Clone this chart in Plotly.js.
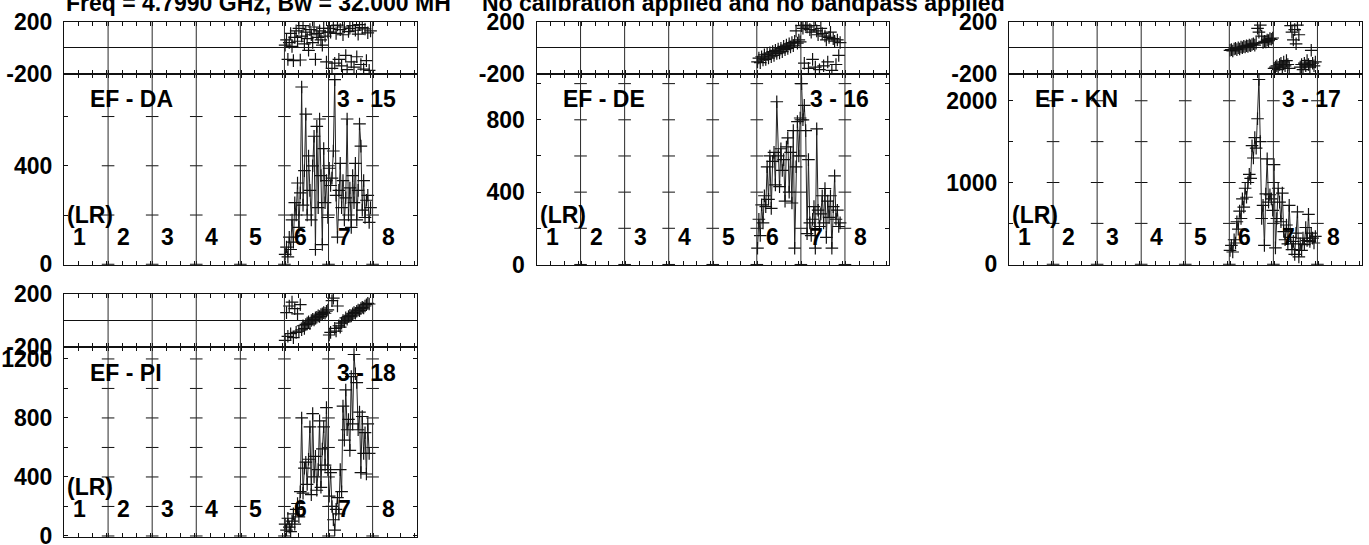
<!DOCTYPE html>
<html><head><meta charset="utf-8">
<script src="https://cdn.plot.ly/plotly-3.0.1.min.js"></script>
<style>html,body{margin:0;padding:0;background:#fff;} #chart{width:1369px;height:545px;}</style>
</head><body><div id="chart"></div>
<script>
// ---------------- data ----------------
const NCH = 32;            // channels per IF
const NIF = 8;             // IFs per baseline
const ifLabels = ['1','2','3','4','5','6','7','8'];
const tickChannels = [1, 11, 21, 31];
const dataIFs = [6, 7];
const baselines = ['EF - DA', 'EF - DE', 'EF - KN', 'EF - PI'];
const scanLabels = ['3 - 15', '3 - 16', '3 - 17', '3 - 18'];
const polLabel = '(LR)';
const titleLeft = 'Freq = 4.7990 GHz, Bw = 32.000 MH';
const titleRight = 'No calibration applied and no bandpass applied';

const phaseTicks = [-200, 200];
const phaseText = ['-200', '200'];
const ampTicksDA = [0, 200, 400, 600];
const ampTextDA = ['0', '', '400', ''];
const ampTicksDE = [0, 200, 400, 600, 800, 1000];
const ampTextDE = ['0', '', '400', '', '800', ''];
const ampTicksKN = [0, 500, 1000, 1500, 2000];
const ampTextKN = ['0', '', '1000', '', '2000'];
const ampTicksPI = [0, 200, 400, 600, 800, 1000, 1200];
const ampTextPI = ['0', '', '400', '', '800', '', '1200'];

// EF - DA
const ampDA6 = [40, 70, 30, 110, 60, 180, 90, 250, 200, 330, 150, 290, 720, 240, 380, 610, 200, 440, 300, 180, 400, 520, 60, 560, 230, 590, 360, 80, 470, 250, 340, 190];
const ampDA7 = [390, 320, 350, 460, 750, 280, 110, 300, 410, 230, 340, 180, 270, 590, 200, 310, 150, 360, 250, 410, 180, 300, 570, 480, 220, 340, 190, 260, 280, 170, 230];
const phsDA6 = [20, 60, -90, 40, 110, 10, -100, 80, 130, 50, 150, -95, 90, 170, 30, 120, 70, -20, 140, 100, 40, 160, -90, 110, 80, 130, 60, 20, 150, 90, -110, 120];
const phsDA7 = [150, 120, -160, 170, -120, 110, 175, -90, 140, -140, 100, 160, -60, -170, 125, 150, -110, 170, -150, 135, -70, 105, 178, -130, 155, -165, 145, -100, 115, -175, 130];
// EF - DE
const ampDE6 = [90, 250, 160, 330, 230, 380, 320, 540, 360, 600, 310, 570, 620, 440, 900, 600, 430, 640, 520, 580, 350, 650, 700, 400, 620, 340, 740, 90, 540, 790, 600, 810];
const ampDE7 = [1000, 800, 880, 740, 170, 580, 230, 160, 250, 320, 90, 750, 300, 210, 280, 380, 230, 420, 150, 350, 260, 380, 90, 320, 490, 250, 300, 210, 230];
const phsDE6 = [-110, -80, -115, -70, -95, -55, -90, -50, -80, -40, -70, -30, -60, -20, -45, -10, -40, -5, -30, 10, -15, 20, -5, 30, 5, 40, 15, 50, 130, 35, 60, 45];
const phsDE7 = [170, 150, -120, 175, 160, -160, 140, 120, -90, 170, -150, 130, 100, -170, 150, 110, -140, 90, 60, -110, 80, 120, -175, 70, 50, -130, 60, -60, 40];
// EF - KN
const ampKN6 = [170, 230, 150, 300, 260, 520, 430, 650, 560, 800, 700, 930, 820, 1000, 1100, 1050, 1450, 1300, 1550, 1420, 1780, 2260, 1500, 560, 720, 230, 860, 1290, 760, 850, 800, 660];
const ampKN7 = [1220, 200, 560, 930, 760, 520, 870, 400, 300, 480, 250, 720, 330, 180, 280, 120, 380, 640, 90, 250, 170, 320, 240, 450, 290, 610, 280, 380, 320, 260, 340];
const phsKN6 = [-20, -15, -25, -10, -5, -15, 0, -10, 5, 0, 10, 5, 15, 10, 20, 15, 25, 30, 20, 35, 150, 120, 175, 90, 40, 50, 45, 60, 55, 70, 65, 75];
const phsKN7 = [-160, -150, -140, -170, -130, -120, -150, -110, -140, -100, -130, -160, 170, 120, 60, 140, 30, 175, 100, -150, -130, -170, -120, -140, -100, -130, -150, -20, -120, -140, -110];
// EF - PI
const ampPI6 = [80, 40, 120, 60, 30, 100, 150, 80, 180, 220, 130, 300, 800, 290, 460, 500, 350, 520, 740, 280, 830, 400, 540, 310, 450, 780, 330, 590, 740, 480, 870, 450];
const ampPI7 = [270, 430, 200, 110, 40, 180, 260, 150, 450, 300, 880, 650, 990, 720, 790, 580, 1080, 760, 1230, 1100, 1040, 720, 840, 430, 810, 560, 700, 420, 760, 560];
const phsPI6 = [-150, 60, -120, 110, -100, 140, -130, 90, -90, 50, -80, 120, -70, -40, -60, -30, -20, -10, -25, 0, 10, 5, 20, 25, 35, 30, 45, 50, 60, 55, 70, 80];
const phsPI7 = [-110, -90, 150, 170, -60, -80, 110, -40, -50, -20, 0, -10, 20, 10, 30, 40, 35, 50, 60, 55, 70, 80, 75, 90, 100, 95, 110, 120, 130, 125];

// ---------------- layout geometry (pixels) ----------------
const W = 1369, H = 545;
const panels = [
  {name: baselines[0], scan: scanLabels[0], L: 64, R: 416.7, top: 21.7, mid: 73.7, bot: 265, ampRange: [-3, 774], ticks: ampTicksDA, tickText: ampTextDA, amp: [ampDA6, ampDA7], phs: [phsDA6, phsDA7]},
  {name: baselines[1], scan: scanLabels[1], L: 536.5, R: 889, top: 21.7, mid: 73.7, bot: 265, ampRange: [-3, 1055], ticks: ampTicksDE, tickText: ampTextDE, amp: [ampDE6, ampDE7], phs: [phsDE6, phsDE7]},
  {name: baselines[2], scan: scanLabels[2], L: 1009, R: 1361.5, top: 21.7, mid: 73.7, bot: 265, ampRange: [-9, 2331], ticks: ampTicksKN, tickText: ampTextKN, amp: [ampKN6, ampKN7], phs: [phsKN6, phsKN7]},
  {name: baselines[3], scan: scanLabels[3], L: 64, R: 416.7, top: 294, mid: 347, bot: 537, ampRange: [-7, 1281], ticks: ampTicksPI, tickText: ampTextPI, amp: [ampPI6, ampPI7], phs: [phsPI6, phsPI7]}
];

const FONT = {family: '"Liberation Sans", Arial, Helvetica, sans-serif', size: 23, color: '#000', weight: 'bold'};
const INK = '#111';
const py = y => 1 - y / H;
const sfx = n => (n === 1 ? '' : String(n));
const chanX = (ifNum, n) => Array.from({length: n}, (_, i) => (ifNum - 1) * NCH + i + 0.5);

const xTicks = [];
for (let k = 0; k < NIF; k++) tickChannels.forEach(c => xTicks.push(k * NCH + c - 0.5));

const traces = [], shapes = [], annotations = [];
const layout = {
  width: W, height: H, margin: {l: 0, r: 0, t: 0, b: 0},
  paper_bgcolor: '#fff', plot_bgcolor: 'rgba(0,0,0,0)', showlegend: false, font: FONT,
  hovermode: false
};

panels.forEach((p, i) => {
  const ph = 2 * i + 1, am = 2 * i + 2;
  const baseX = {
    domain: [p.L / W, p.R / W], range: [0, NIF * NCH], tickvals: xTicks,
    ticks: 'inside', ticklen: 4, tickwidth: 1, tickcolor: INK, showticklabels: false,
    showline: true, linecolor: INK, linewidth: 1, mirror: 'ticks', showgrid: false, zeroline: false, fixedrange: true
  };
  layout['xaxis' + sfx(ph)] = Object.assign({}, baseX, {anchor: 'y' + sfx(ph)});
  layout['xaxis' + sfx(am)] = Object.assign({}, baseX, {anchor: 'y' + sfx(am)});
  layout['yaxis' + sfx(ph)] = {
    domain: [py(p.mid), py(p.top)], range: [-201, 201], tickvals: phaseTicks, ticktext: phaseText,
    ticks: '', showline: true, linecolor: INK, linewidth: 1, mirror: true, showgrid: false,
    zeroline: true, zerolinecolor: INK, zerolinewidth: 1, anchor: 'x' + sfx(ph), tickfont: FONT,
    ticklabelstandoff: 6, ticklabeloverflow: 'allow', fixedrange: true
  };
  layout['yaxis' + sfx(am)] = {
    domain: [py(p.bot), py(p.mid)], range: p.ampRange, tickvals: p.ticks, ticktext: p.tickText,
    ticks: 'inside', ticklen: 4, tickwidth: 1, tickcolor: INK, showline: true, linecolor: INK, linewidth: 1,
    mirror: 'ticks', showgrid: false, zeroline: false, anchor: 'x' + sfx(am), tickfont: FONT,
    ticklabelstandoff: 6, ticklabeloverflow: 'allow', fixedrange: true
  };

  // IF separators
  for (let k = 1; k < NIF; k++) {
    shapes.push({type: 'line', xref: 'x' + sfx(am), yref: 'paper', x0: k * NCH, x1: k * NCH,
      y0: py(p.bot), y1: py(p.top), line: {color: '#2a2a2a', width: 1}});
  }
  // amplitude tick crosses on the separators
  const bx = [], by = [];
  for (let k = 1; k < NIF; k++) p.ticks.forEach(t => { bx.push(k * NCH); by.push(t); });
  traces.push({type: 'scatter', mode: 'markers', x: bx, y: by, xaxis: 'x' + sfx(am), yaxis: 'y' + sfx(am),
    marker: {symbol: 'line-ew-open', size: 9, color: INK, line: {width: 1, color: INK}}, hoverinfo: 'skip'});

  // data
  dataIFs.forEach((ifn, j) => {
    const a = p.amp[j], f = p.phs[j];
    traces.push({type: 'scatter', mode: 'lines+markers', x: chanX(ifn, a.length), y: a,
      xaxis: 'x' + sfx(am), yaxis: 'y' + sfx(am),
      line: {color: '#222', width: 1},
      marker: {symbol: 'cross-thin-open', size: 9, color: INK, line: {width: 1.2, color: INK}}, hoverinfo: 'skip'});
    traces.push({type: 'scatter', mode: 'markers', x: chanX(ifn, f.length), y: f,
      xaxis: 'x' + sfx(ph), yaxis: 'y' + sfx(ph),
      marker: {symbol: 'cross-thin-open', size: 9, color: INK, line: {width: 1.2, color: INK}}, hoverinfo: 'skip'});
  });

  // labels
  annotations.push({xref: 'paper', yref: 'paper', x: (p.L + 24) / W, y: py(p.mid + 25.5), xanchor: 'left', yanchor: 'middle',
    text: p.name, showarrow: false, font: FONT});
  annotations.push({xref: 'paper', yref: 'paper', x: (p.L + 271) / W, y: py(p.mid + 25.5), xanchor: 'left', yanchor: 'middle',
    text: p.scan, showarrow: false, font: FONT});
  annotations.push({xref: 'paper', yref: 'paper', x: (p.L + 1) / W, y: py(p.bot - 50.5), xanchor: 'left', yanchor: 'middle',
    text: polLabel, showarrow: false, font: FONT});
  ifLabels.forEach((lab, k) => {
    annotations.push({xref: 'x' + sfx(am), yref: 'paper', x: k * NCH + 11.3, y: py(p.bot - 28), xanchor: 'center', yanchor: 'middle',
      text: lab, showarrow: false, font: FONT});
  });
});

annotations.push({xref: 'paper', yref: 'paper', x: 64 / W, y: py(3.3), xanchor: 'left', yanchor: 'middle',
  text: titleLeft, showarrow: false, font: FONT});
annotations.push({xref: 'paper', yref: 'paper', x: 480 / W, y: py(3.3), xanchor: 'left', yanchor: 'middle',
  text: titleRight, showarrow: false, font: FONT});

layout.shapes = shapes;
layout.annotations = annotations;

Plotly.newPlot('chart', traces, layout, {staticPlot: true, displayModeBar: false});
</script>
</body></html>
